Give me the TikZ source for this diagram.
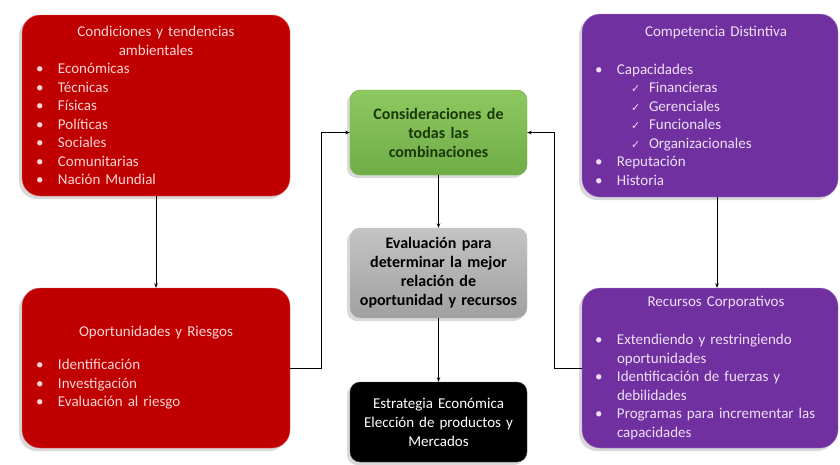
\documentclass[tikz,border=0pt]{standalone}
\usepackage{fontspec}
\setmainfont{Carlito}
\newfontfamily\simbolos{DejaVu Sans}
\usetikzlibrary{arrows.meta,shadows,positioning}

\definecolor{rojo}{RGB}{192,0,0}
\definecolor{rojoborde}{RGB}{228,96,96}
\definecolor{rojotexto}{RGB}{250,212,212}
\definecolor{morado}{RGB}{112,48,160}
\definecolor{moradoborde}{RGB}{168,120,208}
\definecolor{moradotexto}{RGB}{236,224,246}
\definecolor{verde}{RGB}{112,173,71}
\definecolor{verdeclaro}{RGB}{142,200,96}
\definecolor{verdetexto}{RGB}{26,56,10}
\definecolor{gris}{RGB}{160,160,160}
\definecolor{grisclaro}{RGB}{196,196,196}

\newcommand{\punto}{\makebox[22pt][l]{\textbullet}}
\newcommand{\sigue}{\hspace*{22pt}}
\newcommand{\palomita}{\hspace*{36pt}\makebox[18pt][l]{\simbolos\fontsize{11}{11}\selectfont ✓}}

\tikzstyle{caja} = [rectangle, rounded corners=18pt, minimum width=268pt, minimum height=181pt, text width=240pt, align=left, inner sep=0pt, drop shadow={shadow xshift=-3pt, shadow yshift=-3pt, opacity=0.3}, font=\fontsize{15}{18.5}\selectfont]
\tikzstyle{roja} = [caja, fill=rojo, draw=rojoborde, text=rojotexto]
\tikzstyle{morada} = [caja, fill=morado, draw=moradoborde, text=moradotexto, minimum width=256pt, text width=230pt]
\tikzstyle{centro} = [rectangle, rounded corners=10pt, minimum width=177pt, text width=174pt, align=center, inner sep=0pt, drop shadow={shadow xshift=-3pt, shadow yshift=-3pt, opacity=0.3}, font=\fontsize{15}{19}\selectfont]
\tikzstyle{flecha} = [-{Stealth[length=4.5pt,width=3.5pt]}, line width=0.8pt]

\begin{document}
\begin{tikzpicture}[x=1pt, y=-1pt]
\useasboundingbox (0,0) rectangle (840,464);

\node [roja] (cond) at (156,105.5) {{\centering Condiciones y tendencias\\ambientales\par}
\punto Económicas\\
\punto Técnicas\\
\punto Físicas\\
\punto Políticas\\
\punto Sociales\\
\punto Comunitarias\\
\punto Nación Mundial};
\node [roja, below of=cond, node distance=262.5pt, minimum height=160pt] (opor) {{\centering Oportunidades y Riesgos\par}\vspace{14.5pt}
\punto Identificación\\
\punto Investigación\\
\punto Evaluación al riesgo};

\node [morada, right of=cond, node distance=554pt, minimum height=183pt] (comp) {{\centering\hspace*{12pt}Competencia Distintiva\par}\vspace{19.5pt}
\punto Capacidades\\
\palomita Financieras\\
\palomita Gerenciales\\
\palomita Funcionales\\
\palomita Organizacionales\\
\punto Reputación\\
\punto Historia};
\node [morada, below of=comp, node distance=262.5pt, minimum height=160pt] (recur) {{\centering\hspace*{12pt}Recursos Corporativos\par}\vspace{19.5pt}
\punto Extendiendo y restringiendo\\
\sigue oportunidades\\
\punto Identificación de fuerzas y\\
\sigue debilidades\\
\punto Programas para incrementar las\\
\sigue capacidades};

\node [centro, top color=verdeclaro, bottom color=verde, draw=verde, text=verdetexto, minimum height=85pt, font=\fontsize{16}{19}\selectfont\bfseries] (cons) at (438.5,132.5) {Consideraciones de\\todas las\\combinaciones};
\node [centro, top color=grisclaro, bottom color=gris, draw=grisclaro, text=black, minimum height=90pt, font=\fontsize{16}{19}\selectfont\bfseries, below of=cons, node distance=140.5pt] (eval) {Evaluación para\\determinar la mejor\\relación de\\oportunidad y recursos};
\node [centro, fill=black, draw=black!70, text=white, minimum height=80pt, below of=eval, node distance=149pt] (estr) {Estrategia Económica\\Elección de productos y\\Mercados};

\draw [flecha] (cond) -- (opor);
\draw [flecha] ([xshift=7pt]comp.south) -- ([xshift=7pt]recur.north);
\draw [flecha] (opor.east) -- ++(31pt,0) |- (cons.west);
\draw [flecha] (recur.west) -- ++(-27pt,0) |- (cons.east);
\draw [flecha] (cons) -- (eval);
\draw [flecha] (eval) -- (estr);
\end{tikzpicture}
\end{document}
